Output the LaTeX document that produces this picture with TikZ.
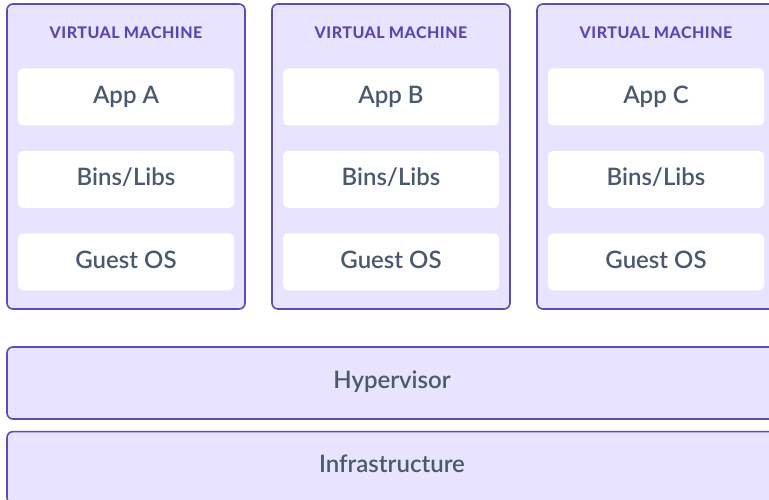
\documentclass[tikz,border=0pt]{standalone}
\usepackage{fontspec}
\usetikzlibrary{positioning}
\setmainfont{Lato}[UprightFont=* Semibold, BoldFont=* Black]
\newfontfamily\vmheadfont{Lato}[UprightFont=* Heavy, LetterSpace=3]
\definecolor{vmborder}{RGB}{90,78,178}
\definecolor{vmfill}{RGB}{232,228,255}
\definecolor{vmhead}{RGB}{88,72,180}
\definecolor{parttext}{RGB}{74,88,112}
\begin{document}
\begin{tikzpicture}[
    x=1pt, y=-1pt,
    node distance=25pt,
    every node/.style={inner sep=0pt, font=\fontsize{24}{26}\selectfont, text=parttext,
        text height=17pt, text depth=7pt},
    vmbox/.style={draw=vmborder, line width=1.6pt, fill=vmfill, rounded corners=6pt,
        minimum width=238pt, minimum height=305pt},
    partbox/.style={fill=white, rounded corners=5pt, minimum width=216pt, minimum height=57pt,
        text depth=4pt},
    layerbox/.style={draw=vmborder, line width=1.6pt, fill=vmfill, rounded corners=6pt,
        minimum width=770pt, minimum height=72pt},
    vmlabel/.style={font=\vmheadfont\fontsize{16}{18}\selectfont, text=vmhead,
        text height=11.5pt, text depth=0pt}
]
\useasboundingbox (0,0) rectangle (769,500);
\clip (0,0) rectangle (769,500);
\fill[white] (0,0) rectangle (769,500);
\foreach \i/\vm in {0/A, 1/B, 2/C} {
    \node[vmbox] (vm\vm) at ({126+265*\i}, 156.5) {};
    \node[vmlabel] (head\vm) at ({126+265*\i}, 33) {VIRTUAL MACHINE};
    \node[partbox] (app\vm) at ({126+265*\i}, 97) {App \vm};
    \node[partbox, below=of app\vm] (libs\vm) {Bins/Libs};
    \node[partbox, below=of libs\vm] (os\vm) {Guest OS};
}
\node[layerbox] (hyper) at (392, 383) {Hypervisor};
\node[layerbox, below=11pt of hyper] (infra) {Infrastructure};
\end{tikzpicture}
\end{document}
